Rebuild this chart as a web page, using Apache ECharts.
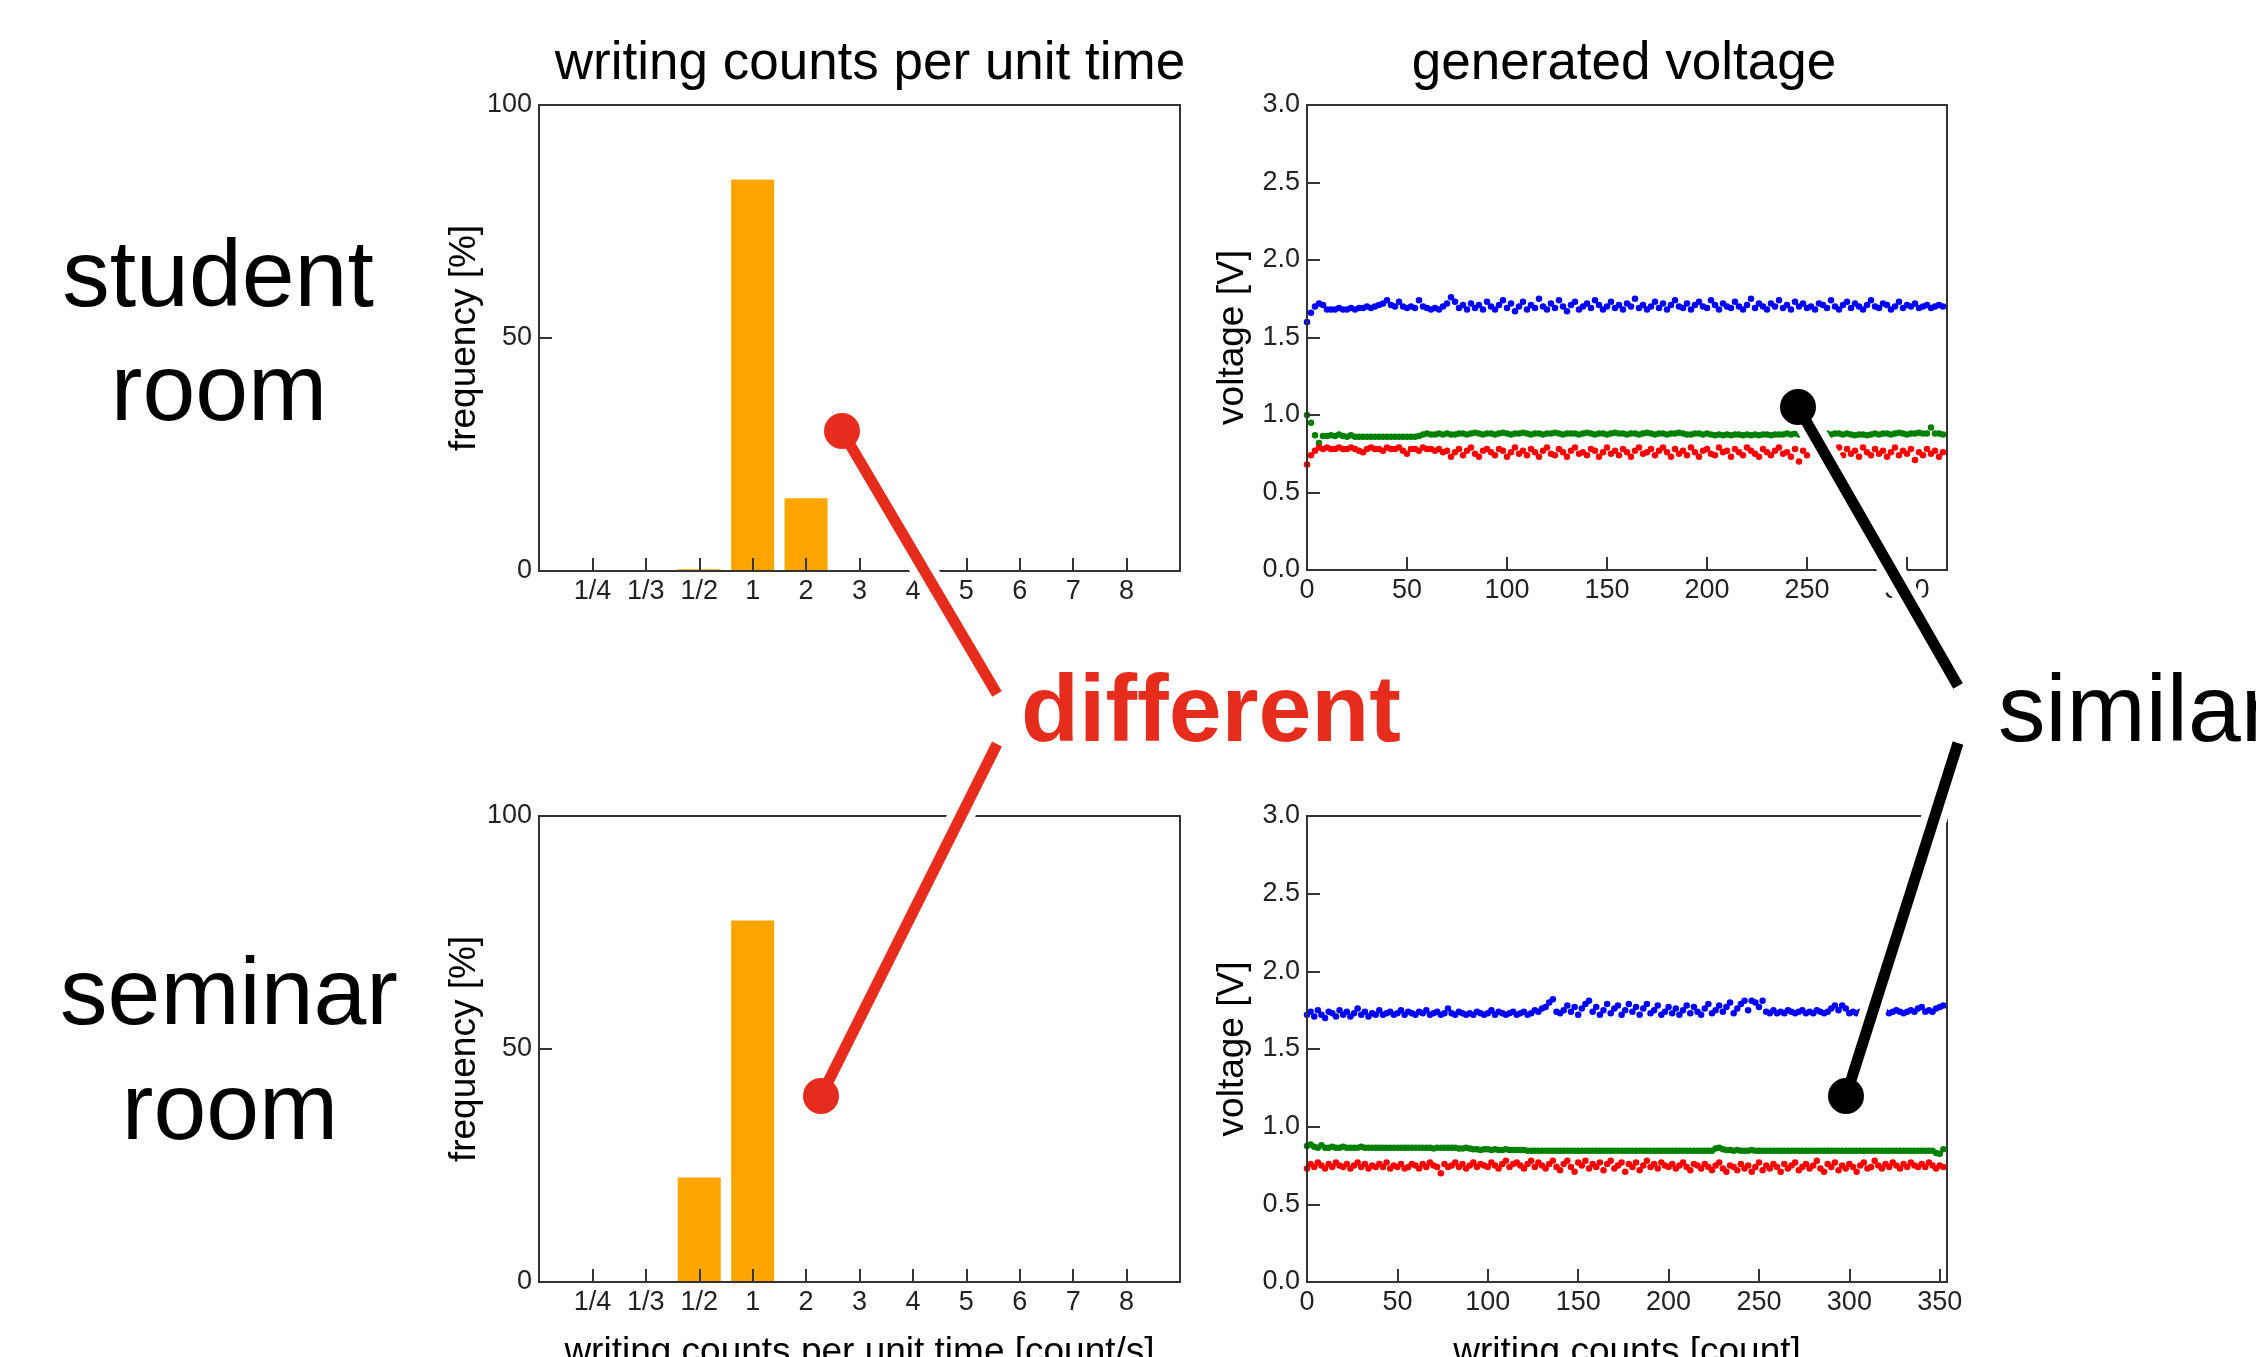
<!DOCTYPE html>
<html>
<head>
<meta charset="utf-8">
<script src="https://cdn.jsdelivr.net/npm/echarts@6/dist/echarts.min.js"></script>
<style>
  html, body { margin: 0; padding: 0; background: #fff; }
  #chart { width: 2256px; height: 1357px; }
</style>
</head>
<body>
<div id="chart"></div>
<script>
// writing rate histogram (categories on the x axis)
const rateLabels = ['1/4', '1/3', '1/2', '1', '2', '3', '4', '5', '6', '7', '8'];
const studentFreq = [0, 0, 0.4, 84, 15.6, 0, 0, 0, 0, 0, 0];
const seminarFreq = [0, 0, 22.4, 77.6, 0, 0, 0, 0, 0, 0, 0];

// generated voltage, one reading every 2 writing counts
const countStep = 2;

const studentBlue = [
  1.60, 1.66, 1.70, 1.72, 1.71, 1.68, 1.68, 1.68, 1.69, 1.68,
  1.68, 1.69, 1.68, 1.69, 1.69, 1.70, 1.69, 1.70, 1.71, 1.72,
  1.74, 1.71, 1.70, 1.73, 1.70, 1.69, 1.70, 1.69, 1.74, 1.70,
  1.69, 1.68, 1.69, 1.68, 1.70, 1.72, 1.76, 1.73, 1.69, 1.71,
  1.68, 1.72, 1.69, 1.71, 1.68, 1.73,
  1.70, 1.68, 1.71, 1.74, 1.69, 1.72, 1.67, 1.70, 1.73, 1.68,
  1.71, 1.69, 1.75, 1.70, 1.68, 1.72, 1.69, 1.74, 1.70, 1.67,
  1.71, 1.73, 1.68, 1.70, 1.72, 1.69, 1.74, 1.71, 1.68, 1.70,
  1.73, 1.69, 1.71, 1.68, 1.72, 1.70, 1.75, 1.69, 1.71, 1.68,
  1.70, 1.73, 1.69, 1.72, 1.68, 1.71, 1.74, 1.70, 1.69, 1.72,
  1.68, 1.71, 1.73, 1.70, 1.69, 1.74, 1.71, 1.68, 1.72, 1.70,
  1.69, 1.73, 1.70, 1.68, 1.71, 1.75, 1.69, 1.72, 1.70, 1.68,
  1.72, 1.70, 1.74, 1.69, 1.71, 1.68, 1.73, 1.70, 1.72, 1.69,
  1.70, 1.68, 1.72, 1.71, 1.69, 1.74, 1.70, 1.68, 1.71, 1.73,
  1.69, 1.72, 1.70, 1.68, 1.71, 1.74, 1.70, 1.69, 1.72, 1.71,
  1.68, 1.70, 1.73, 1.69, 1.71, 1.70, 1.72, 1.69, 1.70, 1.71,
  1.69, 1.70, 1.71, 1.70
];
const studentGreen = [
  1.00, 0.95, 0.87, 0.82, 0.865, 0.865, 0.87, 0.865, 0.875, 0.865,
  0.86, 0.87, 0.86, 0.86, 0.86, 0.86, 0.86, 0.86, 0.86, 0.86,
  0.86, 0.86, 0.86, 0.86, 0.86, 0.86, 0.86, 0.86, 0.865,
  0.875, 0.88, 0.875, 0.875, 0.88, 0.875, 0.88, 0.875, 0.875, 0.88,
  0.88, 0.875, 0.88, 0.885, 0.88, 0.875, 0.88, 0.88, 0.875, 0.88,
  0.885, 0.88, 0.875, 0.88, 0.88, 0.885, 0.88, 0.875, 0.88, 0.88,
  0.875, 0.88, 0.88, 0.885, 0.88, 0.875, 0.88, 0.88, 0.88, 0.875,
  0.88, 0.885, 0.88, 0.875, 0.88, 0.88, 0.875, 0.88, 0.885, 0.88,
  0.88, 0.875, 0.88, 0.88, 0.875, 0.88, 0.885, 0.88, 0.875, 0.88,
  0.88, 0.875, 0.88, 0.88, 0.885, 0.88, 0.875, 0.875, 0.88, 0.88,
  0.875, 0.88, 0.875, 0.87, 0.875, 0.87, 0.875, 0.87, 0.875, 0.875,
  0.87, 0.875, 0.87, 0.875, 0.87, 0.875, 0.875, 0.87, 0.875, 0.875,
  0.875, 0.88, 0.875, 0.88, 0.875, 0.88, 0.88, 0.875, 0.88, 0.88,
  0.885, 0.88, 0.875, 0.88, 0.88, 0.875, 0.88, 0.875, 0.87, 0.875,
  0.875, 0.87, 0.875, 0.88, 0.875, 0.88, 0.88, 0.875, 0.88, 0.885,
  0.88, 0.875, 0.88, 0.88, 0.885, 0.88, 0.88, 0.92, 0.88, 0.88,
  0.875
];
const studentRed = [
  0.68, 0.74, 0.77, 0.79, 0.78, 0.79, 0.78, 0.78, 0.79, 0.78,
  0.78, 0.79, 0.78, 0.77, 0.76, 0.78, 0.79, 0.78, 0.78, 0.77,
  0.79, 0.78, 0.78, 0.79, 0.77, 0.75, 0.78, 0.78, 0.77, 0.79,
  0.78, 0.78, 0.77, 0.78, 0.76, 0.77,
  0.73, 0.76, 0.78, 0.74, 0.77, 0.79, 0.75, 0.73, 0.77, 0.78,
  0.76, 0.74, 0.78, 0.77, 0.73, 0.76, 0.79, 0.75, 0.77, 0.74,
  0.78, 0.76, 0.73, 0.77, 0.79, 0.75, 0.74, 0.78, 0.76, 0.73,
  0.77, 0.79, 0.75, 0.76, 0.74, 0.78, 0.77, 0.73, 0.76, 0.79,
  0.75, 0.77, 0.74, 0.78, 0.76, 0.73, 0.77, 0.79, 0.75, 0.76,
  0.78, 0.74, 0.77, 0.79, 0.76, 0.73, 0.78, 0.75, 0.77, 0.74,
  0.79, 0.76, 0.73, 0.77, 0.78, 0.75, 0.74, 0.79, 0.76, 0.77,
  0.73, 0.78, 0.76, 0.74, 0.79, 0.77, 0.75, 0.73, 0.78, 0.76,
  0.74, 0.77, 0.79, 0.75, 0.76, 0.73, 0.78, 0.70, 0.77, 0.74,
  0.79, 0.76, 0.75, 0.78, 0.73, 0.77, 0.76, 0.79, 0.74, 0.78,
  0.75, 0.77, 0.73, 0.79, 0.76, 0.74, 0.78, 0.75, 0.77, 0.73,
  0.76, 0.79, 0.74, 0.77, 0.75, 0.78, 0.71, 0.76, 0.74, 0.78,
  0.75, 0.77, 0.73, 0.76
];

const seminarBlue = [
  1.72, 1.74, 1.71, 1.75, 1.72, 1.70, 1.74, 1.73, 1.71, 1.75,
  1.72, 1.74, 1.71, 1.73, 1.76, 1.72, 1.74, 1.71, 1.73, 1.72,
  1.75, 1.72, 1.73, 1.74, 1.72, 1.73, 1.75, 1.72, 1.74, 1.73,
  1.72, 1.74, 1.73, 1.75, 1.72, 1.73, 1.74, 1.72, 1.73, 1.76,
  1.73, 1.72, 1.74, 1.73, 1.72, 1.73, 1.72, 1.74, 1.73, 1.72,
  1.73, 1.75, 1.72, 1.74, 1.73, 1.72, 1.73, 1.74, 1.72, 1.73,
  1.74, 1.72, 1.73, 1.75, 1.74, 1.76, 1.77, 1.80, 1.82, 1.74,
  1.73, 1.75, 1.78, 1.74, 1.77, 1.72, 1.76, 1.79, 1.81, 1.74,
  1.77, 1.72, 1.75, 1.79, 1.73, 1.76, 1.78, 1.72, 1.75, 1.79,
  1.74, 1.77, 1.72, 1.76, 1.79, 1.73, 1.75, 1.78, 1.72, 1.74,
  1.77, 1.73, 1.76, 1.72, 1.75, 1.78, 1.73, 1.77, 1.74, 1.72,
  1.76, 1.79, 1.73, 1.75, 1.78, 1.74, 1.77, 1.80, 1.73, 1.76,
  1.79, 1.81, 1.75, 1.81, 1.80, 1.77, 1.81, 1.74, 1.73, 1.75,
  1.73,
  1.74, 1.73, 1.75, 1.74, 1.73, 1.74, 1.75, 1.73, 1.74, 1.73,
  1.75, 1.74, 1.73, 1.74, 1.76, 1.78, 1.75, 1.78, 1.76, 1.73,
  1.74, 1.73, 1.74, 1.73, 1.75, 1.74, 1.73, 1.74, 1.73, 1.74,
  1.73, 1.74, 1.75, 1.74, 1.73, 1.74, 1.75, 1.74, 1.76, 1.77,
  1.74, 1.75, 1.74, 1.76, 1.77, 1.78
];
const seminarGreen = [
  0.875, 0.885, 0.87, 0.865, 0.88, 0.865, 0.865, 0.87, 0.865, 0.865,
  0.87, 0.865, 0.865, 0.865, 0.865, 0.87, 0.865, 0.865, 0.865, 0.865,
  0.865, 0.865, 0.865, 0.865, 0.865, 0.865, 0.865, 0.865, 0.865, 0.865,
  0.865, 0.865, 0.865, 0.865, 0.865, 0.86, 0.865, 0.865, 0.865, 0.865,
  0.865, 0.865, 0.86, 0.86, 0.865, 0.86,
  0.855, 0.855, 0.85, 0.855, 0.855, 0.85, 0.855, 0.85, 0.85, 0.855,
  0.85, 0.85, 0.85, 0.85, 0.85, 0.845, 0.845,
  0.845, 0.845, 0.845, 0.845, 0.845, 0.845, 0.845, 0.845, 0.845, 0.845,
  0.845, 0.845, 0.845, 0.845, 0.845, 0.845, 0.845, 0.845, 0.845, 0.845,
  0.845, 0.845, 0.845, 0.845, 0.845, 0.845, 0.845, 0.845, 0.845, 0.845,
  0.845, 0.845, 0.845, 0.845, 0.845, 0.845, 0.845, 0.845, 0.845, 0.845,
  0.845, 0.845, 0.845, 0.845, 0.845, 0.845, 0.845, 0.845, 0.845, 0.845,
  0.86, 0.865, 0.855, 0.85, 0.85, 0.845, 0.85, 0.845, 0.845, 0.845,
  0.85, 0.845, 0.845, 0.845, 0.845, 0.845, 0.845, 0.845, 0.845, 0.845,
  0.845, 0.845, 0.845, 0.845, 0.845, 0.845, 0.845, 0.845, 0.845, 0.845,
  0.845, 0.845, 0.845, 0.845, 0.845, 0.845, 0.845, 0.845, 0.845, 0.845,
  0.845, 0.845, 0.845, 0.845, 0.845, 0.845, 0.845, 0.845, 0.845, 0.845,
  0.845, 0.845, 0.845, 0.845, 0.845, 0.845, 0.845, 0.845, 0.845, 0.845,
  0.845, 0.83, 0.825, 0.855
];
const seminarRed = [
  0.73, 0.76, 0.74, 0.77, 0.75, 0.73, 0.76, 0.74, 0.77, 0.75,
  0.74, 0.76, 0.73, 0.75, 0.77, 0.74, 0.76, 0.73, 0.75, 0.74,
  0.76, 0.74, 0.77, 0.73, 0.75, 0.74, 0.76, 0.73, 0.74, 0.76,
  0.75, 0.73, 0.76, 0.74, 0.77, 0.75, 0.74, 0.70, 0.76, 0.74,
  0.75, 0.77, 0.74, 0.76, 0.73, 0.75, 0.77, 0.74, 0.76, 0.75,
  0.74, 0.77, 0.75, 0.73, 0.76, 0.78, 0.74, 0.76, 0.77, 0.75,
  0.73, 0.76, 0.78, 0.74, 0.77, 0.75, 0.73, 0.76, 0.78, 0.74,
  0.72, 0.76, 0.78, 0.74, 0.71, 0.77, 0.75, 0.78, 0.73, 0.76,
  0.74, 0.77, 0.72, 0.76, 0.78, 0.73, 0.75, 0.77, 0.71, 0.76,
  0.74, 0.77, 0.72, 0.75, 0.78, 0.74, 0.76, 0.73, 0.77, 0.75,
  0.74, 0.76, 0.73, 0.75, 0.77, 0.74, 0.72, 0.76, 0.75, 0.73,
  0.76, 0.74, 0.72, 0.75, 0.77, 0.73, 0.71, 0.75, 0.74, 0.72,
  0.76, 0.73, 0.75, 0.71, 0.74, 0.77, 0.72, 0.75, 0.73, 0.76,
  0.74, 0.71, 0.76, 0.73, 0.75, 0.77, 0.72, 0.74, 0.76, 0.73,
  0.75, 0.78, 0.73, 0.71, 0.76, 0.74, 0.77, 0.72, 0.75, 0.73,
  0.76, 0.74, 0.71, 0.75, 0.77, 0.73, 0.74, 0.78, 0.75, 0.73,
  0.76, 0.74, 0.77, 0.75, 0.73, 0.76, 0.74, 0.77, 0.75, 0.74,
  0.76, 0.74, 0.77, 0.75, 0.73, 0.75, 0.74
];

const studentMaxCount = 320;
const seminarMaxCount = 354;

const FONT = "'Liberation Sans', Arial, Helvetica, sans-serif";
const AXIS_COLOR = '#333';

const chart = echarts.init(document.getElementById('chart'), null, { renderer: 'canvas' });

function toPoints(values) {
  return values.map((v, i) => [i * countStep, v]);
}

function padded(arr, fill) {
  return [fill, ...arr, fill];
}

function rateAxis(gridIndex, withName) {
  return {
    type: 'category',
    gridIndex: gridIndex,
    data: padded(rateLabels, ''),
    boundaryGap: false,
    z: 5,
    axisLine: { lineStyle: { color: AXIS_COLOR, width: 2 } },
    axisTick: {
      inside: true, length: 13,
      interval: (i) => i > 0 && i <= rateLabels.length,
      lineStyle: { color: AXIS_COLOR, width: 2 }
    },
    axisLabel: {
      interval: 0, margin: 7, fontSize: 27, fontFamily: FONT, color: '#222'
    },
    splitLine: { show: false },
    name: withName ? 'writing counts per unit time [count/s]' : '',
    nameLocation: 'middle',
    nameGap: 52,
    nameTextStyle: { fontSize: 37, fontFamily: FONT, color: '#000' }
  };
}

function countAxis(gridIndex, max, withName) {
  return {
    type: 'value',
    gridIndex: gridIndex,
    min: 0, max: max, interval: 50,
    z: 5,
    axisLine: { lineStyle: { color: AXIS_COLOR, width: 2 } },
    axisTick: { inside: true, length: 13, lineStyle: { color: AXIS_COLOR, width: 2 } },
    axisLabel: {
      margin: 7, fontSize: 27, fontFamily: FONT, color: '#222',
      showMaxLabel: false
    },
    splitLine: { show: false },
    name: withName ? 'writing counts [count]' : '',
    nameLocation: 'middle',
    nameGap: 52,
    nameTextStyle: { fontSize: 37, fontFamily: FONT, color: '#000' }
  };
}

function freqAxis(gridIndex) {
  return {
    type: 'value',
    gridIndex: gridIndex,
    min: 0, max: 100, interval: 50,
    z: 5,
    axisLine: { show: true, lineStyle: { color: AXIS_COLOR, width: 2 } },
    axisTick: { show: true, inside: true, length: 13, lineStyle: { color: AXIS_COLOR, width: 2 } },
    axisLabel: { margin: 7, fontSize: 27, fontFamily: FONT, color: '#222' },
    splitLine: { show: false },
    name: 'frequency [%]',
    nameLocation: 'middle',
    nameRotate: 90,
    nameGap: 41,
    nameTextStyle: { fontSize: 37, fontFamily: FONT, color: '#000' }
  };
}

function voltAxis(gridIndex) {
  return {
    type: 'value',
    gridIndex: gridIndex,
    min: 0, max: 3, interval: 0.5,
    z: 5,
    axisLine: { show: true, lineStyle: { color: AXIS_COLOR, width: 2 } },
    axisTick: { show: true, inside: true, length: 13, lineStyle: { color: AXIS_COLOR, width: 2 } },
    axisLabel: {
      margin: 7, fontSize: 27, fontFamily: FONT, color: '#222',
      formatter: (v) => v.toFixed(1)
    },
    splitLine: { show: false },
    name: 'voltage [V]',
    nameLocation: 'middle',
    nameRotate: 90,
    nameGap: 56,
    nameTextStyle: { fontSize: 37, fontFamily: FONT, color: '#000' }
  };
}

function barSeries(idx, values) {
  return {
    type: 'bar',
    xAxisIndex: idx, yAxisIndex: idx,
    data: padded(values, '-'),
    barWidth: 43,
    itemStyle: { color: '#ffa500' },
    silent: true
  };
}

function dotSeries(idx, values, color) {
  return {
    type: 'scatter',
    xAxisIndex: idx, yAxisIndex: idx,
    data: toPoints(values),
    symbol: 'circle',
    symbolSize: 6.5,
    itemStyle: { color: color, opacity: 1 },
    silent: true
  };
}

function label(text, x, y, size, opts) {
  return Object.assign({
    type: 'text', x: x, y: y, z: 120,
    style: {
      text: text, font: size + 'px ' + FONT, fill: '#000',
      textAlign: 'center', textVerticalAlign: 'middle'
    }
  }, opts || {});
}

function pointer(from, to, color) {
  return [
    { type: 'line', z: 100, shape: { x1: from[0], y1: from[1], x2: to[0], y2: to[1] },
      style: { stroke: '#fff', lineWidth: 26, lineCap: 'butt' } },
    { type: 'circle', z: 100, shape: { cx: from[0], cy: from[1], r: 24 }, style: { fill: '#fff' } },
    { type: 'line', z: 110, shape: { x1: from[0], y1: from[1], x2: to[0], y2: to[1] },
      style: { stroke: color, lineWidth: 11, lineCap: 'butt' } },
    { type: 'circle', z: 110, shape: { cx: from[0], cy: from[1], r: 18 }, style: { fill: color } }
  ];
}

const RED = '#e52c1d';

const option = {
  backgroundColor: '#fff',
  animation: false,
  grid: [
    { left: 539, top: 105, width: 641, height: 466 },
    { left: 1307, top: 105, width: 640, height: 465 },
    { left: 539, top: 816, width: 641, height: 466 },
    { left: 1307, top: 816, width: 640, height: 466 }
  ].map(g => Object.assign({
    show: true, borderColor: AXIS_COLOR, borderWidth: 2,
    backgroundColor: 'transparent', containLabel: false, outerBoundsMode: 'none'
  }, g)),
  xAxis: [
    rateAxis(0, false),
    countAxis(1, studentMaxCount, false),
    rateAxis(2, true),
    countAxis(3, seminarMaxCount, true)
  ],
  yAxis: [freqAxis(0), voltAxis(1), freqAxis(2), voltAxis(3)],
  series: [
    barSeries(0, studentFreq),
    dotSeries(1, studentBlue, '#0000ff'),
    dotSeries(1, studentGreen, '#008000'),
    dotSeries(1, studentRed, '#ff0000'),
    barSeries(2, seminarFreq),
    dotSeries(3, seminarBlue, '#0000ff'),
    dotSeries(3, seminarGreen, '#008000'),
    dotSeries(3, seminarRed, '#ff0000')
  ],
  graphic: { elements: [
    label('writing counts per unit time', 870, 64, 53),
    label('generated voltage', 1624, 64, 53),
    label('student', 218, 280, 95),
    label('room', 219, 394, 95),
    label('seminar', 229, 998, 95),
    label('room', 230, 1113, 95),
    ...pointer([842, 431], [997, 694], RED),
    ...pointer([821, 1096], [997, 744], RED),
    ...pointer([1798, 407], [1958, 686], '#000'),
    ...pointer([1846, 1096], [1958, 743], '#000'),
    {
      type: 'text', x: 1021, y: 715, z: 120,
      style: { text: 'different', font: 'bold 95px ' + FONT, fill: RED,
        textAlign: 'left', textVerticalAlign: 'middle' }
    },
    {
      type: 'text', x: 1998, y: 715, z: 120,
      style: { text: 'similar', font: '95px ' + FONT, fill: '#000',
        textAlign: 'left', textVerticalAlign: 'middle' }
    }
  ] }
};

chart.setOption(option);
</script>
</body>
</html>
